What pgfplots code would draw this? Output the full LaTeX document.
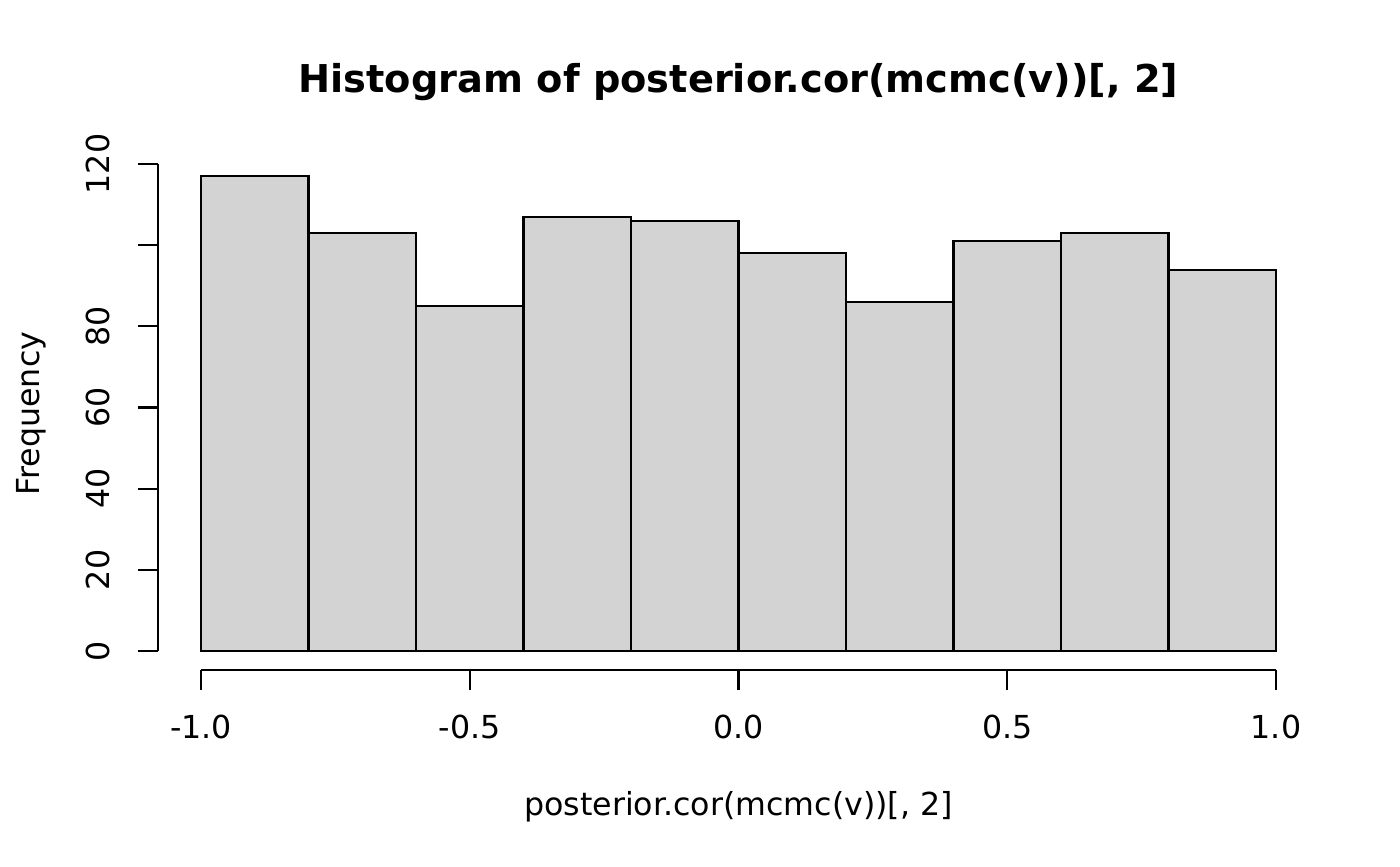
\documentclass[border=0pt]{standalone}
\usepackage{fontspec}
\setmainfont{DejaVu Sans}
\usepackage{pgfplots}
\pgfplotsset{compat=1.18}
\definecolor{histfill}{RGB}{211,211,211}
% 1 px of the 1400x866 reference = 0.36pt
\begin{document}
\begin{tikzpicture}
\path[use as bounding box] (0,0) rectangle (504pt,311.76pt);
\begin{axis}[
  at={(56.88pt,70.56pt)}, anchor=south west,
  scale only axis, width=417.96pt, height=184.6pt,
  xmin=-1.08, xmax=1.08, ymin=-4.68, ymax=121.68,
  axis lines*=left, axis line style={draw=none},
  tick align=outside, major tick length=7.2pt,
  major tick style={black, line width=0.75pt},
  xtick={-1,-0.5,0,0.5,1}, xticklabels={-1.0,-0.5,0.0,0.5,1.0},
  ytick={0,20,40,60,80,100,120}, yticklabels={0,20,40,60,80,,120},
  xticklabel style={anchor=base, yshift=-17.28pt, font=\fontsize{11.4}{13.5}\selectfont},
  yticklabel style={xshift=-10.44pt, rotate=90, anchor=base, font=\fontsize{11.4}{13.5}\selectfont},
  clip=false,
]
\addplot[ybar interval, fill=histfill, draw=black, line width=0.75pt] coordinates {
  (-1.0,117) (-0.8,103) (-0.6,85) (-0.4,107) (-0.2,106)
  (0.0,98) (0.2,86) (0.4,101) (0.6,103) (0.8,94) (1.0,94)};
\draw[line width=0.75pt] (axis cs:-1,-4.68) -- (axis cs:1,-4.68);
\draw[line width=0.75pt] (axis cs:-1.08,0) -- (axis cs:-1.08,120);
\end{axis}
\node[anchor=base, font=\fontsize{13.8}{16.5}\selectfont\bfseries] at (265.86pt,278.4pt) {Histogram of posterior.cor(mcmc(v))[, 2]};
\node[anchor=base, font=\fontsize{11.4}{13.5}\selectfont] at (265.86pt,18.36pt) {posterior.cor(mcmc(v))[, 2]};
\node[anchor=base, rotate=90, font=\fontsize{11.4}{13.5}\selectfont] at (14.22pt,162.86pt) {Frequency};
\end{tikzpicture}
\end{document}
